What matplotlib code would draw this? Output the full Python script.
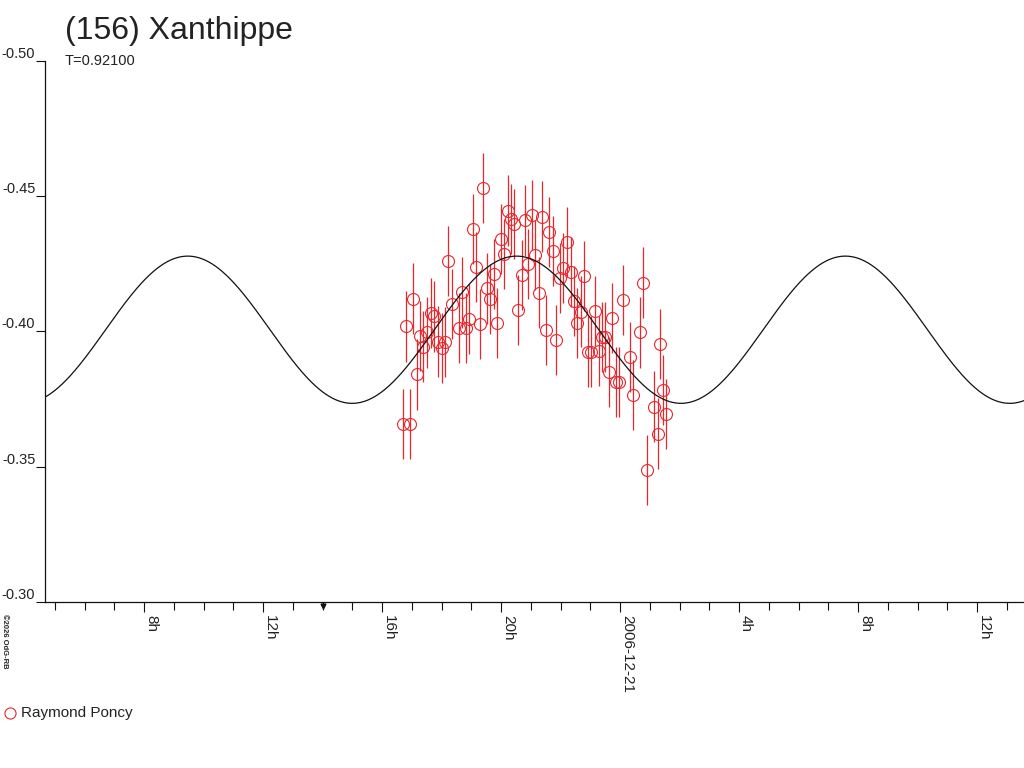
import numpy as np
import matplotlib
matplotlib.use("Agg")
import matplotlib.pyplot as plt

plt.rcParams['font.family'] = ['Liberation Sans', 'DejaVu Sans']

# observations: hours since 2006-12-20 00:00 UT, relative magnitude
obs_hours = [16.72, 16.94, 16.82, 17.05, 17.17, 17.28, 17.39, 17.50, 17.64, 17.75,
             17.87, 18.00, 18.12, 18.23, 18.34, 18.58, 18.70, 18.82, 18.93, 19.06,
             19.17, 19.28, 19.41, 19.53, 19.64, 19.76, 19.88, 19.99, 20.11, 20.23,
             20.35, 20.45, 20.58, 20.70, 20.81, 20.92, 21.05, 21.14, 21.28, 21.39,
             21.52, 21.62, 21.75, 21.86, 21.98, 22.09, 22.22, 22.35, 22.44, 22.56,
             22.69, 22.80, 22.92, 23.03, 23.17, 23.28, 23.39, 23.51, 23.62, 23.74,
             23.86, 23.97, 24.10, 24.35, 24.45, 24.68, 24.78, 24.92, 25.14, 25.27,
             25.35, 25.46, 25.56]
obs_mag = [-0.3658, -0.3658, -0.4018, -0.4121, -0.3841, -0.3983, -0.3944, -0.3996, -0.4067, -0.4055,
           -0.3962, -0.3938, -0.3960, -0.4260, -0.4102, -0.4012, -0.4144, -0.4013, -0.4046, -0.4377,
           -0.4238, -0.4028, -0.4530, -0.4159, -0.4120, -0.4212, -0.4032, -0.4342, -0.4286, -0.4446,
           -0.4415, -0.4396, -0.4079, -0.4208, -0.4410, -0.4250, -0.4430, -0.4282, -0.4143, -0.4424,
           -0.4004, -0.4367, -0.4297, -0.3967, -0.4196, -0.4233, -0.4330, -0.4220, -0.4112, -0.4032,
           -0.4073, -0.4205, -0.3925, -0.3925, -0.4076, -0.3928, -0.3980, -0.3980, -0.3849, -0.4050,
           -0.3813, -0.3813, -0.4115, -0.3905, -0.3765, -0.3996, -0.4180, -0.3488, -0.3722, -0.3622,
           -0.3953, -0.3783, -0.3695]
mag_err = 0.013

# fitted lightcurve (two equal maxima per rotation)
period_days = 0.92100
fit_mean = -0.4006
fit_amp = 0.0272
fit_peak_hour = 9.47

tick_hours = [8, 12, 16, 20, 24, 28, 32, 36]
tick_labels = ['8h', '12h', '16h', '20h', '2006-12-21', '4h', '8h', '12h']
y_ticks = [-0.50, -0.45, -0.40, -0.35, -0.30]

red = '#e8262c'
txt = '#222222'

fig = plt.figure(figsize=(10.24, 7.68), dpi=100)
ax = fig.add_axes([45 / 1024, 1 - 602 / 768, 1 - 45 / 1024, (602 - 60.7) / 768])

x0, x1 = 4.67, 37.58
ax.set_xlim(x0, x1)
ax.set_ylim(-0.30, -0.50)

# model curve
half_p = period_days * 24 / 2
tc = np.linspace(x0, x1, 1200)
mc = fit_mean - fit_amp * np.cos(2 * np.pi * (tc - fit_peak_hour) / half_p)

ax.errorbar(obs_hours, obs_mag, yerr=mag_err, fmt='o', ms=8.6, mfc='none',
            mec=red, mew=0.8, ecolor=red, elinewidth=0.9, capsize=0, zorder=2)
ax.plot(tc, mc, color='#111111', lw=0.9, zorder=3)

for s in ['top', 'right']:
    ax.spines[s].set_visible(False)
for s in ['left', 'bottom']:
    ax.spines[s].set_color('#111111')
    ax.spines[s].set_linewidth(0.9)

ax.set_xticks(tick_hours)
ax.set_xticklabels(tick_labels)
ax.set_xticks([h for h in range(5, 38) if h not in tick_hours], minor=True)
ax.tick_params(axis='x', which='major', length=7.5, width=0.8, color='#111111',
               pad=2, labelsize=11, labelcolor=txt)
ax.tick_params(axis='x', which='minor', length=5.5, width=0.8, color='#111111')
for lab in ax.get_xticklabels():
    lab.set_rotation(270)
    lab.set_ha('left')
    lab.set_va('top')

ax.set_yticks(y_ticks)
ax.set_yticklabels(['%.2f' % v for v in y_ticks])
ax.tick_params(axis='y', length=6.5, width=0.8, color='#111111', pad=0.5,
               labelsize=10.5, labelcolor=txt)
for lab in ax.get_yticklabels():
    lab.set_va('bottom')

# small arrow head on the 14h tick
ax.plot([14], [-0.2985], marker='v', ms=3.5, color='#111111', clip_on=False, zorder=5)

fig.text(65 / 1024, 1 - 39 / 768, '(156) Xanthippe', fontsize=23, color=txt,
         va='baseline', ha='left')
fig.text(65 / 1024, 1 - 65 / 768, 'T=0.92100', fontsize=10.5, color=txt,
         va='baseline', ha='left')

# legend
fig.lines.append(plt.Line2D([10 / 1024], [1 - 713 / 768], marker='o', ms=8,
                            mfc='none', mec=red, mew=0.8, transform=fig.transFigure))
fig.text(21 / 1024, 1 - 713 / 768, 'Raymond Poncy', fontsize=11, color=txt,
         va='center', ha='left')

fig.text(1 / 1024, 1 - 614 / 768, '\u00a92026 OdG-RB', fontsize=5.5, color=txt,
         rotation=270, ha='left', va='top', fontweight='bold')

fig.savefig('out.png', dpi=100)
